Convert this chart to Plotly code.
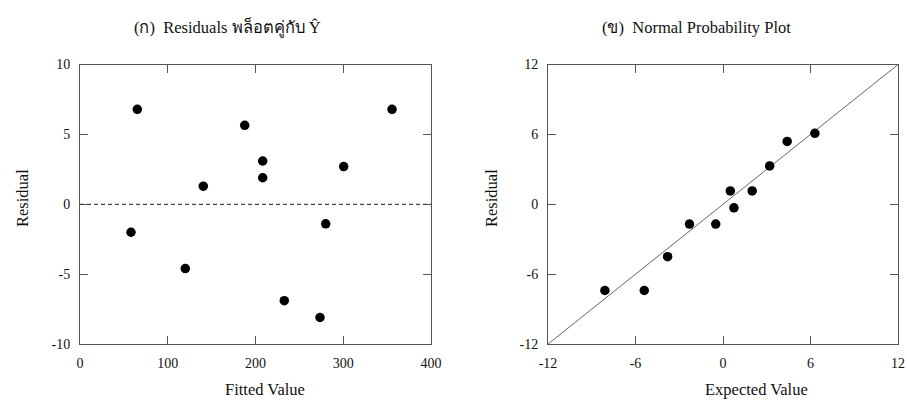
import plotly.graph_objects as go

# Panel (a): residuals against fitted values
fitted = [65.3, 355.6, 187.7, 208.2, 208.2, 140.5, 300.5, 58.1, 280.0, 120.0, 232.8, 273.5]
resid = [6.8, 6.8, 5.65, 3.1, 1.9, 1.3, 2.7, -2.0, -1.4, -4.6, -6.9, -8.1]

# Panel (b): normal probability plot
expected = [-8.1, -5.4, -3.8, -2.3, -0.5, 0.75, 0.5, 2.0, 3.2, 4.4, 6.3]
resid_sorted = [-7.4, -7.4, -4.5, -1.7, -1.7, -0.3, 1.15, 1.15, 3.3, 5.4, 6.1]

x_ticks_a = [0, 100, 200, 300, 400]
y_ticks_a = [-10, -5, 0, 5, 10]
ticks_b = [-12, -6, 0, 6, 12]


def labels(vals):
    # plain hyphen for negatives
    return [str(v) for v in vals]


FONT = "Liberation Serif, Times New Roman, serif"
AXIS_COLOR = "#555555"
W, H = 907, 401

fig = go.Figure()

fig.add_trace(go.Scatter(
    x=fitted, y=resid, mode="markers",
    marker=dict(color="black", size=9.5),
    xaxis="x", yaxis="y", showlegend=False,
))

fig.add_trace(go.Scatter(
    x=[-12, 12], y=[-12, 12], mode="lines",
    line=dict(color="#666666", width=1),
    xaxis="x2", yaxis="y2", showlegend=False,
))
fig.add_trace(go.Scatter(
    x=expected, y=resid_sorted, mode="markers",
    marker=dict(color="black", size=9.5),
    xaxis="x2", yaxis="y2", showlegend=False,
))

axis_common = dict(
    showgrid=False, zeroline=False, showline=True, linecolor=AXIS_COLOR,
    linewidth=1, mirror="ticks", ticks="inside", ticklen=8,
    tickcolor=AXIS_COLOR, tickwidth=1,
    tickfont=dict(family=FONT, size=14, color="#111111"),
)

y_dom = [0.142, 0.839]


def px_ann(text, x, y, angle=0, size=16.5):
    return dict(text=text, x=x / W, y=1 - y / H, xref="paper", yref="paper",
                xanchor="center", yanchor="middle", textangle=angle,
                showarrow=False, font=dict(family=FONT, size=size))


fig.update_layout(
    width=W, height=H,
    margin=dict(l=0, r=0, t=0, b=0, pad=0, autoexpand=False),
    paper_bgcolor="white", plot_bgcolor="white",
    font=dict(family=FONT, color="#111111"),
    xaxis=dict(axis_common, domain=[0.0882, 0.4752], range=[0, 400],
               tickvals=x_ticks_a, ticktext=labels(x_ticks_a), anchor="y",
               ticklabelstandoff=6),
    yaxis=dict(axis_common, domain=y_dom, range=[-10, 10],
               tickvals=y_ticks_a, ticktext=labels(y_ticks_a), anchor="x",
               ticklabelstandoff=6),
    xaxis2=dict(axis_common, domain=[0.6042, 0.9901], range=[-12, 12],
                tickvals=ticks_b, ticktext=labels(ticks_b), anchor="y2",
                ticklabelstandoff=6),
    yaxis2=dict(axis_common, domain=y_dom, range=[-12, 12],
                tickvals=ticks_b, ticktext=labels(ticks_b), anchor="x2",
                ticklabelstandoff=6),
    shapes=[dict(
        type="line", xref="x domain", yref="y", x0=0, x1=1, y0=0, y1=0,
        line=dict(color="#444444", width=1.2, dash="4px,3px"),
    )],
    annotations=[
        px_ann("(ก)  Residuals พล็อตคู่กับ Ŷ", 227, 28),
        px_ann("(ข)  Normal Probability Plot", 696, 27),
        px_ann("Fitted Value", 265, 389),
        px_ann("Expected Value", 756, 389),
        px_ann("Residual", 22, 198, angle=-90),
        px_ann("Residual", 491, 198, angle=-90),
    ],
)

fig.write_html("out.html")
